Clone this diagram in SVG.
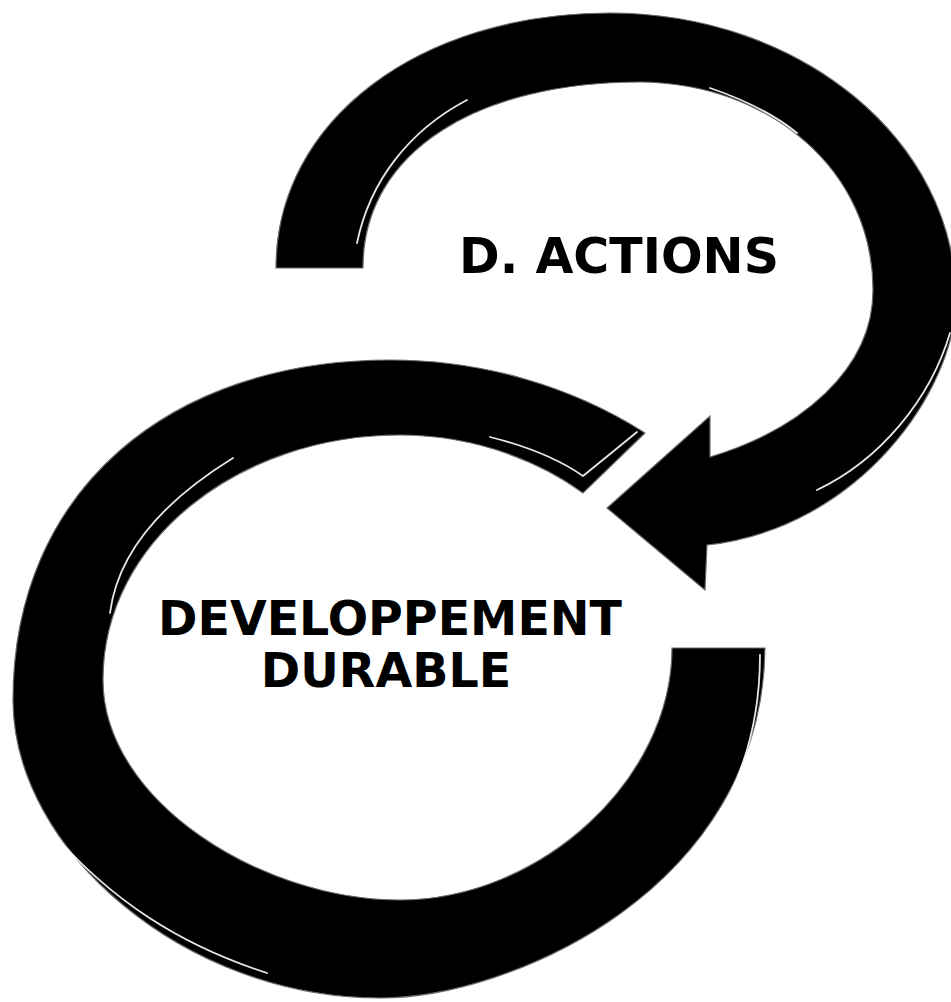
<svg xmlns="http://www.w3.org/2000/svg" width="951" height="1002" viewBox="0 0 951 1002">
  <style>
    .band { fill: #000; stroke: #6a6a6a; stroke-width: 1.2; }
    .hl { fill: none; stroke: #fff; stroke-width: 1.8; stroke-linecap: round; opacity: 0.9; }
    .label { font-family: "DejaVu Sans", Verdana, sans-serif; font-weight: bold; fill: #000; text-anchor: middle; }
  </style>
  <rect width="951" height="1002" fill="#fff"/>

  <g id="node-developpement-durable">
    <path class="band" d="M645,433 C570,385 480,360 390,360 C170,360 13,490 13,700 C13,850 185,998 380,998 C510,998 762,890 765,648 L672,648 C672,780 540,900 400,900 C260,900 103,800 103,680 C103,540 240,435 400,435 C480,435 545,465 583,493 Z"/>
    <path class="hl" d="M490,437 C530,447 560,460 583,476 L637,432"/>
    <path class="hl" d="M233,458 C165,500 118,550 110,613"/>
    <path class="hl" d="M50,830 C110,900 180,945 267,973"/>
    <path class="hl" d="M760,655 C760,760 715,850 643,900"/>
    <text class="label" x="390" y="635" font-size="47.5">DEVELOPPEMENT</text>
    <text class="label" x="386" y="687" font-size="47.5">DURABLE</text>
  </g>

  <g id="node-actions">
    <path class="band" d="M276,268 C276,120 420,13 610,13 C800,13 956,140 956,300 C955,390 860,528 707,545 L705,590 L607,508 L710,416 L710,457 C800,430 873,370 873,290 C873,170 770,83 640,82 C480,82 363,150 363,268 Z"/>
    <path class="hl" d="M357,243 C370,180 410,130 467,100"/>
    <path class="hl" d="M710,88 C745,100 775,115 797,133"/>
    <path class="hl" d="M950,333 C930,400 880,460 817,490"/>
    <text class="label" x="619" y="273" font-size="49">D. ACTIONS</text>
  </g>
</svg>
